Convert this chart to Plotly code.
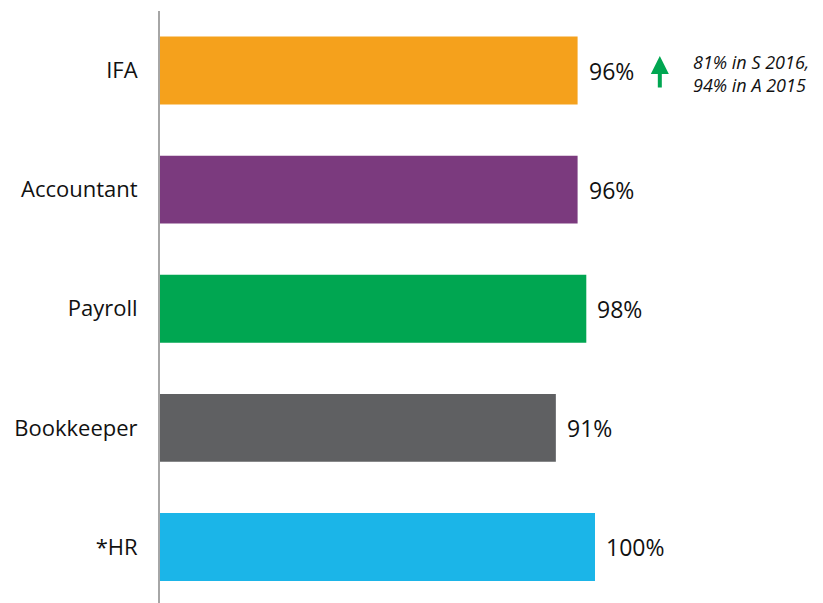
import plotly.graph_objects as go

categories = ["IFA", "Accountant", "Payroll", "Bookkeeper", "*HR"]
values = [96, 96, 98, 91, 100]
labels = ["96%", "96%", "98%", "91%", "100%"]
colors = ["#F5A11C", "#7B3A7E", "#00A651", "#5F6062", "#1BB5E8"]

fig = go.Figure()
fig.add_trace(go.Bar(
    y=categories, x=values, orientation="h",
    marker=dict(color=colors, line=dict(width=0)),
    width=0.57, hoverinfo="skip",
))

for c, v, t in zip(categories, values, labels):
    fig.add_annotation(x=v, y=c, text=t, showarrow=False, xanchor="left",
                       xshift=9, font=dict(family="Open Sans, sans-serif", size=23, color="#111111"))

# green up arrow
fig.add_annotation(xref="paper", yref="paper", x=1.149, y=0.924, ax=0, ay=33,
                   showarrow=True, arrowhead=2, arrowsize=0.9, arrowwidth=4,
                   arrowcolor="#00A651", text="")
fig.add_annotation(xref="paper", yref="paper", x=1.22, y=0.895, xanchor="left",
                   yanchor="middle", align="left", showarrow=False,
                   text="<i>81% in S 2016,<br>94% in A 2015</i>",
                   font=dict(family="Open Sans, sans-serif", size=18, color="#111111"))

fig.update_layout(
    width=823, height=603,
    margin=dict(l=160, r=228, t=11, b=0),
    plot_bgcolor="white", paper_bgcolor="white",
    showlegend=False,
    xaxis=dict(range=[0, 100], visible=False, fixedrange=True),
    yaxis=dict(range=[4.47, -0.5], showline=True, linecolor="#A6A6A6", linewidth=2,
               showgrid=False, ticks="", ticklabelstandoff=16,
               tickfont=dict(family="Open Sans, sans-serif", size=22, color="#111111")),
)
fig.write_html("out.html")
